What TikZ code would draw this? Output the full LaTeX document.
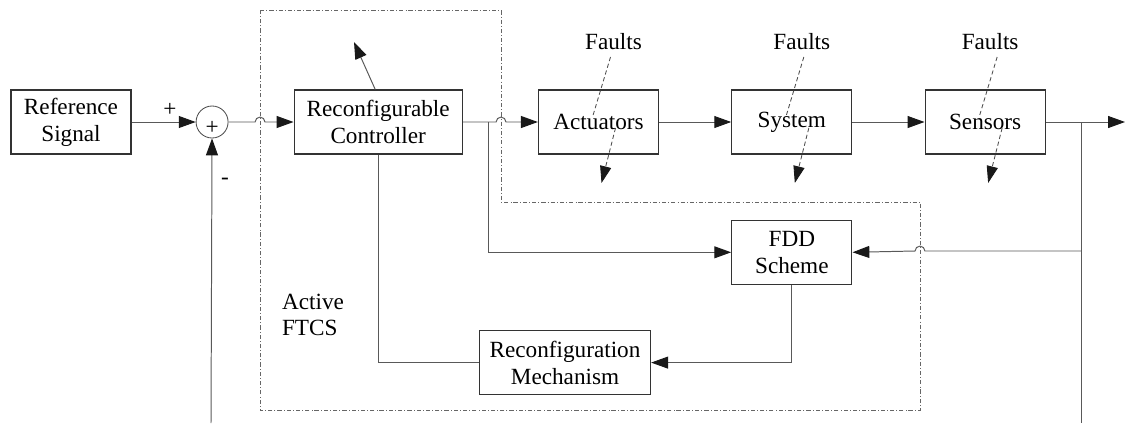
\documentclass[tikz,border=0pt]{standalone}
\usepackage{fontspec}
\setmainfont{Liberation Serif}
\usetikzlibrary{arrows.meta, positioning, calc}
\tikzset{
  every node/.style={font=\fontsize{16.5}{19}\selectfont},
  block/.style={draw=black!80, line width=0.9pt, minimum width=3cm, minimum height=1.6cm, align=center, inner sep=2pt},
  sumnode/.style={draw=black!70, circle, line width=0.6pt, minimum size=0.8cm, inner sep=0pt},
  wire/.style={draw=black!65, line width=0.7pt},
  flow/.style={wire, -{Triangle[length=12pt,width=8.5pt,color=black!90]}},
  fault/.style={draw=black!70, line width=0.6pt, dash pattern=on 3pt off 2pt},
  ftcs/.style={draw=black!60, line width=0.5pt, dash pattern=on 3pt off 1.5pt on 0.6pt off 1.5pt},
}
\begin{document}
\begin{tikzpicture}[x=0.025cm, y=-0.025cm]
\useasboundingbox (0,0) rectangle (1125,423);

% active FTCS frame
\draw[ftcs] (260,10) -- (501,10) -- (501,202) -- (920,202) -- (920,410) -- (260,410) -- cycle;

% main loop
\node[block] (ref) at (71,122) {Reference\\Signal};
\node[sumnode, right=1.6cm of ref, label={[yshift=-4pt]center:+}] (sum) {};
\node[block, minimum width=4.2cm, right=1.625cm of sum] (ctrl) {Reconfigurable\\Controller};
\node[block, right=1.875cm of ctrl] (act) {Actuators};
\node[block, right=1.8cm of act] (sys) {System};
\node[block, right=1.8cm of sys] (sens) {Sensors};

% diagnosis / reconfiguration
\node[block, below=1.625cm of sys] (fdd) {FDD\\Scheme};
\node[block, minimum width=4.275cm, below left=1.125cm and 2cm of fdd] (mech) {Reconfiguration\\Mechanism};

\node (plus) at (170,110) {+};
\node (minus) at (225,181) {-};
\node[align=left] (active) at (313,315) {Active\\FTCS};

\coordinate (j1) at (255.1,122);
\coordinate (j2) at (496.1,122);
\coordinate (j3) at (924.9,251);
\coordinate (tap) at (1081,122);
\coordinate (tapend) at (1081,423);
\coordinate (out) at (1125,122);
\coordinate (fbk) at (211,423);
\coordinate (tune) at (354,42);

\draw[flow] (ref) -- (sum);
\draw[flow] (sum) -- (j1) arc[start angle=180, end angle=0, radius=3.5pt] -- (ctrl);
\draw[flow] (ctrl) -- (j2) arc[start angle=180, end angle=0, radius=3.5pt] -- (act);
\draw[flow] (act) -- (sys);
\draw[flow] (sys) -- (sens);
\draw[flow] (sens) -- (out);
\draw[wire] (tap) -- (tapend);
\draw[flow] (fbk) -- (sum);
\draw[flow] (tap |- j3) -- (j3) arc[start angle=0, end angle=180, radius=3.5pt] -- (fdd.east);
\draw[flow] (ctrl.east) ++(26,0) |- (fdd.west);
\draw[flow] (fdd.south) |- (mech.east);
\draw[wire] (mech.west) -| (ctrl.south);
\draw[flow] (ctrl.north) ++(-3,0) -- (tune);

% faults entering each block
\foreach \b/\dx in {act/15, sys/10, sens/5} {
  \node (flt\b) at ($(\b.north)+(\dx,-48)$) {Faults};
  \draw[fault] ($(\b)+(12,-65)$) -- ($(\b)+(-6,-5)$);
  \draw[fault, -{Triangle[length=12pt,width=8pt,color=black!90]}] ($(\b)+(17,6)$) -- ($(\b)+(3,61)$);
}
\end{tikzpicture}
\end{document}
